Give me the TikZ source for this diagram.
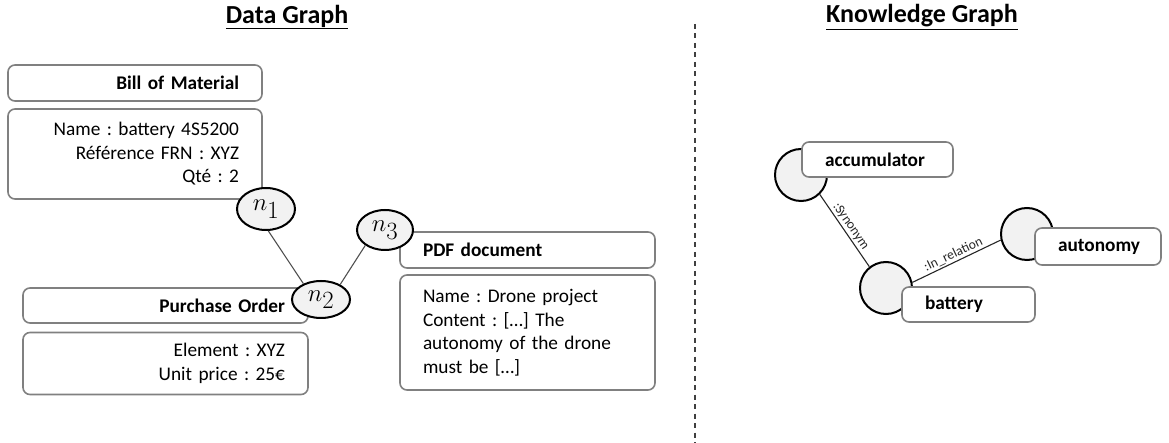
\documentclass[tikz,border=0pt]{standalone}
\usepackage{fontspec}
\setmainfont{Carlito}
\frenchspacing
\usetikzlibrary{shapes.geometric}
\definecolor{boxgray}{RGB}{128,128,128}
\definecolor{nodefill}{RGB}{242,242,242}
\definecolor{edgegray}{RGB}{80,80,80}
\begin{document}
\begin{tikzpicture}[x=1bp,y=-1bp,
  box/.style={draw=boxgray, line width=1.6bp, rounded corners=7bp, fill=white, inner xsep=23bp, inner ysep=0pt,
    font=\fontsize{19.3bp}{23.5bp}\selectfont},
  rbox/.style={box, align=right},
  lbox/.style={box, align=left},
  ent/.style={ellipse, draw=black, line width=2bp, fill=nodefill, inner sep=0pt,
    font=\fontsize{33bp}{33bp}\selectfont},
  kc/.style={circle, draw=black, line width=2bp, fill=nodefill, minimum size=52bp, inner sep=0pt},
  title/.style={font=\fontsize{26bp}{30bp}\selectfont\bfseries},
  dedge/.style={draw=edgegray, line width=1.1bp},
  kedge/.style={draw=black!85, line width=1.1bp},
  elab/.style={font=\fontsize{13.5bp}{15bp}\selectfont, sloped, above, inner sep=1.5bp, text=black!85}
]
\useasboundingbox (0,0) rectangle (1169,443);

% titles
\node[title] (t1) at (287,17) {\underline{Data Graph}};
\node[title] (t2) at (922,17) {\underline{Knowledge Graph}};

% separator
\coordinate (s1) at (695,24);
\coordinate (s2) at (695,443);
\draw[black!75, line width=1.6bp, dash pattern=on 5bp off 4.5bp] (s1) -- (s2);

% ---------------- Data graph ----------------
\node[rbox, text width=208bp, minimum height=36bp] (bom) at (135,83) {\textbf{Bill of Material}};
\node[rbox, text width=208bp, minimum height=90bp] (bomp) at (135,154)
  {Name : battery 4S5200\\ Référence FRN : XYZ\\ Qté : 2};

\node[rbox, text width=239bp, minimum height=35bp] (po) at (165.5,305.5) {\textbf{Purchase Order}};
\node[rbox, text width=239bp, minimum height=62bp] (pop) at (165.5,363.5)
  {Element : XYZ\\ Unit price : 25€};

\node[lbox, text width=209bp, minimum height=36bp] (pdf) at (527.5,250) {\textbf{PDF document}};
\node[lbox, text width=209bp, minimum height=115bp] (pdfp) at (527.5,332.5)
  {Name : Drone project\\ Content : [\ldots] The\\ autonomy of the drone\\ must be [\ldots]};

\node[ent, minimum width=58bp, minimum height=42bp] (n1) at (266,209) {$n_1$};
\node[ent, minimum width=58bp, minimum height=37bp] (n2) at (321,299.5) {$n_2$};
\node[ent, minimum width=56bp, minimum height=40bp] (n3) at (385,230) {$n_3$};

\draw[dedge] (n1.-84) -- (n2.138);
\draw[dedge] (n2.38) -- (n3.218);

% ---------------- Knowledge graph ----------------
\node[kc] (acc) at (801,175) {};
\node[kc] (bat) at (886,288) {};
\node[kc] (aut) at (1027,234) {};

\node[lbox, text width=105bp, minimum height=35bp] (accb) at (877.5,159.5) {\textbf{accumulator}};
\node[lbox, text width=87bp, minimum height=35bp] (batb) at (968.5,304.5) {\textbf{battery}};
\node[lbox, text width=80bp, minimum height=37bp] (autb) at (1098,246.5) {\textbf{autonomy}};

\draw[kedge] (acc.-46) -- node[elab] {:Synonym} (bat.128);
\draw[kedge] (bat.12) -- node[elab] {:In\_relation} (aut.193);
\end{tikzpicture}
\end{document}
